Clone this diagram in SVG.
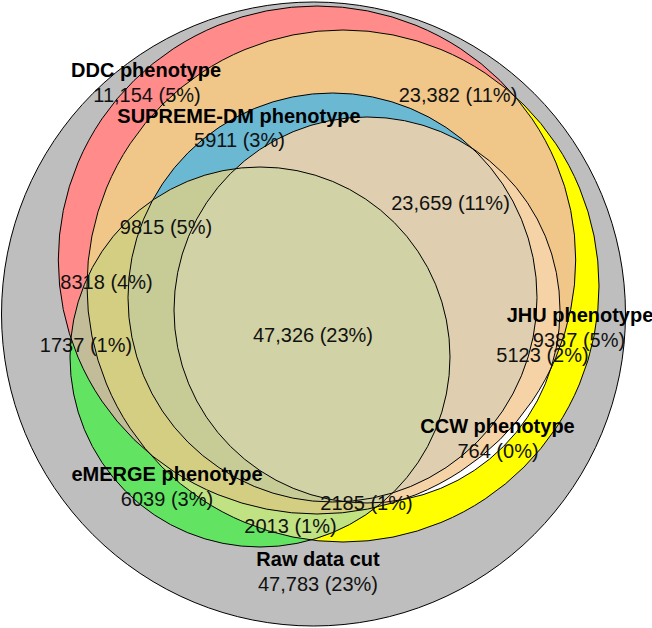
<svg xmlns="http://www.w3.org/2000/svg" width="652" height="628" viewBox="0 0 652 628">
<defs>
<style>
.o{fill:none;stroke:#000;stroke-width:1}
text{font-family:"Liberation Sans",Arial,sans-serif;font-size:20px;fill:#111;text-anchor:middle}
.b{font-weight:bold;fill:#000}
</style>
<circle id="sG" cx="313.5" cy="314" r="312"/>
<ellipse id="sD" cx="317" cy="260" rx="258.7" ry="254"/>
<circle id="sJ" cx="343" cy="286" r="256"/>
<circle id="sS" cx="332.5" cy="297.5" r="204.5"/>
<circle id="sE" cx="260" cy="357" r="190"/>
<circle id="sC" cx="367" cy="310" r="193"/>
<clipPath id="cD"><use href="#sD"/></clipPath>
<clipPath id="cJ"><use href="#sJ"/></clipPath>
<clipPath id="cS"><use href="#sS"/></clipPath>
<clipPath id="cC"><use href="#sC"/></clipPath>
</defs>
<g id="regions">
<use href="#sG" fill="#BEBEBE"/>
<use href="#sD" fill="#FF8B8B"/>
<use href="#sJ" fill="#FFFF00"/>
<g clip-path="url(#cD)"><use href="#sJ" fill="#F0C689"/></g>
<use href="#sC" fill="#FFFFFF"/>
<g clip-path="url(#cD)"><use href="#sC" fill="#F5D3A6"/></g>
<use href="#sS" fill="#6BB8D3"/>
<g clip-path="url(#cS)"><use href="#sC" fill="#DFCFB0"/></g>
<use href="#sE" fill="#62E462"/>
<g clip-path="url(#cJ)"><use href="#sE" fill="#C0E283"/></g>
<g clip-path="url(#cD)"><use href="#sE" fill="#C3BC98"/></g>
<g clip-path="url(#cD)"><g clip-path="url(#cJ)"><use href="#sE" fill="#D4CE82"/></g></g>
<g clip-path="url(#cS)"><use href="#sE" fill="#C7CB96"/></g>
<g clip-path="url(#cC)"><use href="#sE" fill="#D1D3A6"/></g>
</g>
<g id="connectors"></g>
<g id="raw"><use href="#sG" class="o"/><text class="b" x="318" y="566">Raw data cut</text><text x="318" y="591">47,783 (23%)</text></g>
<g id="ddc"><use href="#sD" class="o"/><text class="b" x="146" y="77">DDC phenotype</text><text x="147" y="102">11,154 (5%)</text></g>
<g id="jhu"><use href="#sJ" class="o"/><text class="b" x="580" y="322">JHU phenotype</text><text x="579" y="347">9387 (5%)</text></g>
<g id="supreme"><use href="#sS" class="o"/><text class="b" x="239" y="123">SUPREME-DM phenotype</text><text x="239.5" y="147">5911 (3%)</text></g>
<g id="emerge"><use href="#sE" class="o"/><text class="b" x="167" y="481">eMERGE phenotype</text><text x="167" y="506">6039 (3%)</text></g>
<g id="ccw"><use href="#sC" class="o"/><text class="b" x="497.5" y="433">CCW phenotype</text><text x="498" y="458">764 (0%)</text></g>
<g id="overlaps">
<text x="458" y="102">23,382 (11%)</text>
<text x="450.5" y="210">23,659 (11%)</text>
<text x="166" y="234">9815 (5%)</text>
<text x="106.5" y="289">8318 (4%)</text>
<text x="86" y="352">1737 (1%)</text>
<text x="313" y="342">47,326 (23%)</text>
<text x="542.5" y="362">5123 (2%)</text>
<text x="366.5" y="510">2185 (1%)</text>
<text x="290.5" y="533">2013 (1%)</text>
</g>
</svg>
